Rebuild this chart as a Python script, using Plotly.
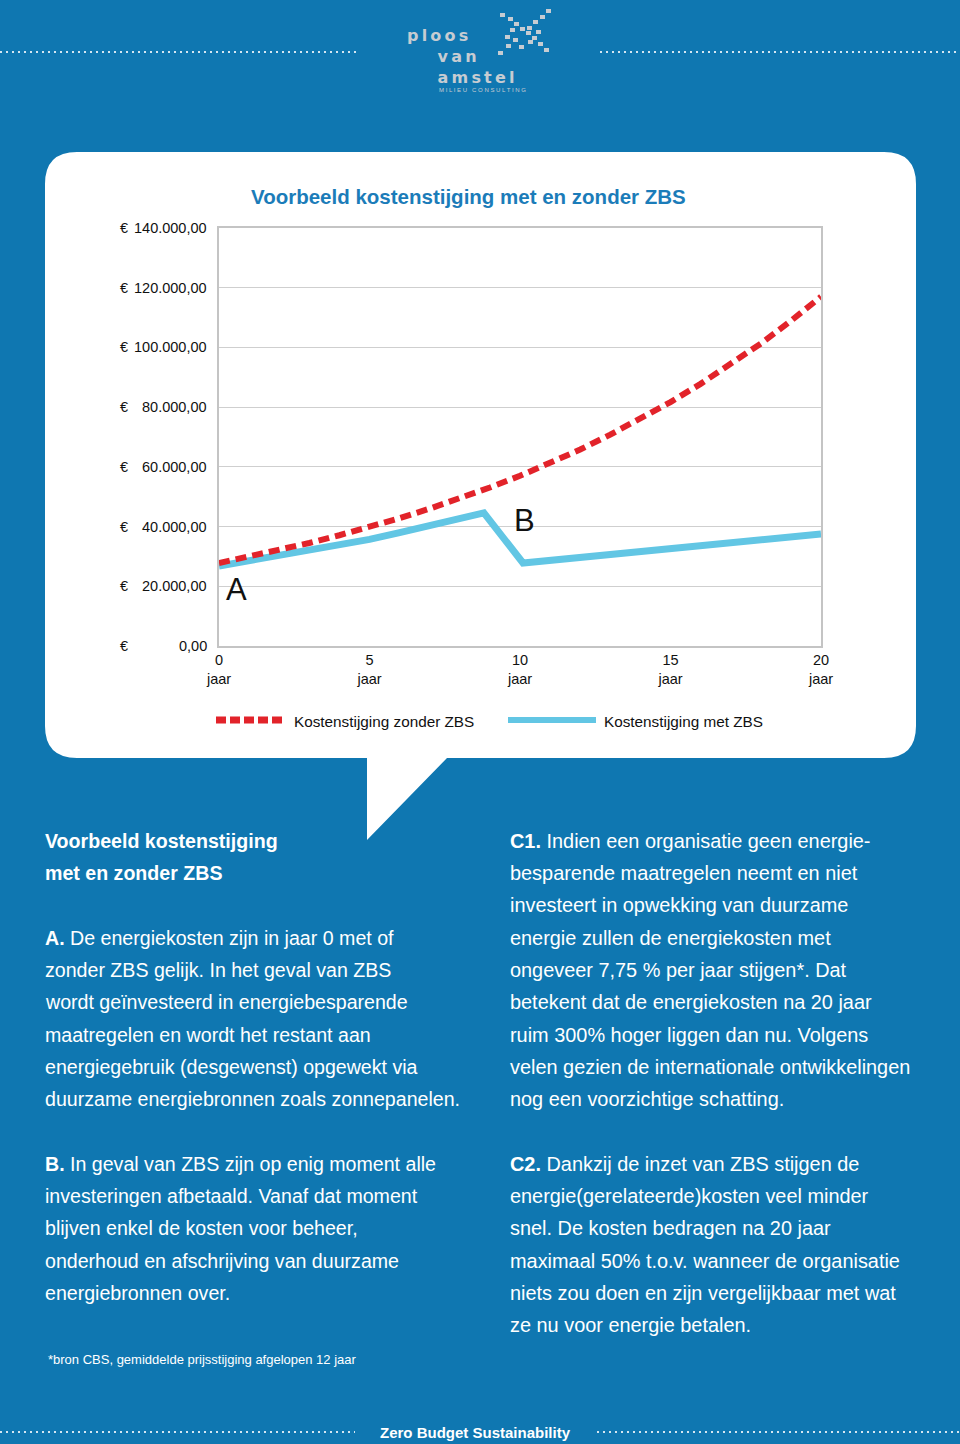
import plotly.graph_objects as go

# ---------------- data ----------------
years_red = list(range(0, 21))
cost_without_zbs = [27800, 29900, 32100, 34500, 37100, 39800, 42800, 46000, 49400, 53100,
                    57000, 61300, 65800, 70800, 76000, 81700, 87800, 94300, 101300, 108900, 117000]
years_blue = [0, 1, 2, 3, 4, 5, 6, 7, 8, 8.8, 10.1, 20]
cost_with_zbs = [26800, 28500, 30500, 32300, 34000, 35700, 38000, 40400, 42800, 44600, 27800, 37500]

y_ticks = [0, 20000, 40000, 60000, 80000, 100000, 120000, 140000]
y_tick_text = ["0,00", "20.000,00", "40.000,00", "60.000,00", "80.000,00",
               "100.000,00", "120.000,00", "140.000,00"]
x_ticks = [0, 5, 10, 15, 20]
x_tick_text = ["0<br>jaar", "5<br>jaar", "10<br>jaar", "15<br>jaar", "20<br>jaar"]

series_names = ["Kostenstijging zonder ZBS", "Kostenstijging met ZBS"]
chart_title = "Voorbeeld kostenstijging met en zonder ZBS"

left_lines = [
    (841, "<b>Voorbeeld kostenstijging</b>"),
    (873, "<b>met en zonder ZBS</b>"),
    (938, "<b>A.</b> De energiekosten zijn in jaar 0 met of"),
    (970, "zonder ZBS gelijk. In het geval van ZBS"),
    (1002, "wordt geïnvesteerd in energiebesparende"),
    (1035, "maatregelen en wordt het restant aan"),
    (1067, "energiegebruik (desgewenst) opgewekt via"),
    (1099, "duurzame energiebronnen zoals zonnepanelen."),
    (1164, "<b>B.</b> In geval van ZBS zijn op enig moment alle"),
    (1196, "investeringen afbetaald. Vanaf dat moment"),
    (1228, "blijven enkel de kosten voor beheer,"),
    (1261, "onderhoud en afschrijving van duurzame"),
    (1293, "energiebronnen over."),
]
right_lines = [
    (841, "<b>C1.</b> Indien een organisatie geen energie-"),
    (873, "besparende maatregelen neemt en niet"),
    (905, "investeert in opwekking van duurzame"),
    (938, "energie zullen de energiekosten met"),
    (970, "ongeveer 7,75 % per jaar stijgen*. Dat"),
    (1002, "betekent dat de energiekosten na 20 jaar"),
    (1035, "ruim 300% hoger liggen dan nu. Volgens"),
    (1067, "velen gezien de internationale ontwikkelingen"),
    (1099, "nog een voorzichtige schatting."),
    (1164, "<b>C2.</b> Dankzij de inzet van ZBS stijgen de"),
    (1196, "energie(gerelateerde)kosten veel minder"),
    (1228, "snel. De kosten bedragen na 20 jaar"),
    (1261, "maximaal 50% t.o.v. wanneer de organisatie"),
    (1293, "niets zou doen en zijn vergelijkbaar met wat"),
    (1325, "ze nu voor energie betalen."),
]
footnote = "*bron CBS, gemiddelde prijsstijging afgelopen 12 jaar"
footer = "Zero Budget Sustainability"
logo_words = ["ploos", "van", "amstel"]

# ---------------- style ----------------
W, H = 960, 1444
PL, PR, PT, PB = 219, 821, 228, 646
BG = "#0f77b1"
RED = "#e2232a"
CYAN = "#62c6e4"
TITLE_BLUE = "#1b7cb9"
FONT = "Helvetica Neue, Liberation Sans, Arial, sans-serif"
LOGO = "#c6ccd2"


def px(x):
    return (x - PL) / (PR - PL)


def py(y):
    return (PB - y) / (PB - PT)


fig = go.Figure()
fig.add_trace(go.Scatter(x=years_blue, y=cost_with_zbs, mode="lines", name=series_names[1],
                         line=dict(color=CYAN, width=7), showlegend=False, hoverinfo="skip"))
fig.add_trace(go.Scatter(x=years_red, y=cost_without_zbs, mode="lines", name=series_names[0],
                         line=dict(color=RED, width=6, dash="11px,6px"), showlegend=False,
                         hoverinfo="skip"))

shapes = []
r = 32


def P(x, y):
    return f"{px(x):.5f},{py(y):.5f}"


path = (f"M{P(45 + r, 152)} L{P(916 - r, 152)} Q{P(916, 152)} {P(916, 152 + r)} "
        f"L{P(916, 758 - r)} Q{P(916, 758)} {P(916 - r, 758)} L{P(447, 758)} L{P(367, 840)} "
        f"L{P(367, 758)} L{P(45 + r, 758)} Q{P(45, 758)} {P(45, 758 - r)} L{P(45, 152 + r)} "
        f"Q{P(45, 152)} {P(45 + r, 152)} Z")
shapes.append(dict(type="path", xref="paper", yref="paper", path=path,
                   fillcolor="white", line=dict(width=0), layer="below"))

# dotted rules
for (x0, x1, y) in [(0, 357, 52), (600, 960, 52), (0, 355, 1432), (597, 960, 1432)]:
    shapes.append(dict(type="line", xref="paper", yref="paper", x0=px(x0), x1=px(x1),
                       y0=py(y), y1=py(y), line=dict(color="#d5e6f1", width=2, dash="2px,4px")))

# legend samples
shapes.append(dict(type="line", xref="paper", yref="paper", x0=px(216), x1=px(285),
                   y0=py(720), y1=py(720), line=dict(color=RED, width=7, dash="10px,4px")))
shapes.append(dict(type="line", xref="paper", yref="paper", x0=px(508), x1=px(596),
                   y0=py(720), y1=py(720), line=dict(color=CYAN, width=6)))

# logo squares (decoration)
logo_sq = [(500, 13), (508, 17), (514, 22), (520, 27), (526, 31), (532, 36), (538, 42), (544, 48),
           (546, 9), (540, 15), (533, 20), (527, 26), (513, 38), (506, 44), (498, 51),
           (510, 28), (528, 40), (536, 30), (505, 35), (519, 45)]
for (sx, sy) in logo_sq:
    shapes.append(dict(type="rect", xref="paper", yref="paper", x0=px(sx), x1=px(sx + 5),
                       y0=py(sy + 4), y1=py(sy), fillcolor=LOGO, line=dict(width=0)))

ann = []
ann.append(dict(text=f"<b>{chart_title}</b>", xref="paper", yref="paper", x=px(249), y=py(196),
                xanchor="left", yanchor="middle", showarrow=False,
                font=dict(size=20.5, color=TITLE_BLUE, family=FONT)))
for v, t in zip(y_ticks, y_tick_text):
    ann.append(dict(text="€", xref="paper", yref="y", x=px(118), y=v, xanchor="left",
                    yanchor="middle", showarrow=False, font=dict(size=14.5, color="#111", family=FONT)))
    ann.append(dict(text=t, xref="paper", yref="y", x=px(209), y=v, xanchor="right",
                    yanchor="middle", showarrow=False, font=dict(size=14.5, color="#111", family=FONT)))
for txt, xv, yv in [("A", 0.15, 18800), ("B", 9.75, 41900), ("C<sup>1</sup>", 20.3, 117300),
                    ("C<sup>2</sup>", 20.3, 38500)]:
    ann.append(dict(text=txt, x=xv, y=yv, xref="x", yref="y", xanchor="left", yanchor="middle",
                    showarrow=False, font=dict(size=31, color="#111", family=FONT)))
ann.append(dict(text=series_names[0], xref="paper", yref="paper", x=px(292), y=py(721),
                xanchor="left", yanchor="middle", showarrow=False,
                font=dict(size=15.3, color="#111", family=FONT)))
ann.append(dict(text=series_names[1], xref="paper", yref="paper", x=px(602), y=py(721),
                xanchor="left", yanchor="middle", showarrow=False,
                font=dict(size=15.3, color="#111", family=FONT)))
for (y, t) in left_lines:
    ann.append(dict(text=t, xref="paper", yref="paper", x=px(43), y=py(y), xanchor="left",
                    yanchor="middle", showarrow=False, font=dict(size=19.6, color="white", family=FONT)))
for (y, t) in right_lines:
    ann.append(dict(text=t, xref="paper", yref="paper", x=px(508), y=py(y), xanchor="left",
                    yanchor="middle", showarrow=False, font=dict(size=19.9, color="white", family=FONT)))
ann.append(dict(text=footnote, xref="paper", yref="paper", x=px(46), y=py(1360), xanchor="left",
                yanchor="middle", showarrow=False, font=dict(size=13, color="white", family=FONT)))
ann.append(dict(text=f"<b>{footer}</b>", xref="paper", yref="paper", x=px(475), y=py(1432),
                xanchor="center", yanchor="middle", showarrow=False,
                font=dict(size=15, color="white", family=FONT)))
# logo text as one block (letter-spaced with thin spaces)
ts = "\u2009"
ind = "\u00a0" * 6
logo_text = "<br>".join(
    (ind if i else "") + "<b>" + ts.join(w) + "</b>" for i, w in enumerate(logo_words))
ann.append(dict(text=logo_text, xref="paper", yref="paper", x=px(405), y=py(56), xanchor="left",
                yanchor="middle", align="left", showarrow=False,
                font=dict(size=16, color=LOGO, family="DejaVu Sans")))
ann.append(dict(text="M I L I E U   C O N S U L T I N G", xref="paper", yref="paper", x=px(437),
                y=py(90), xanchor="left", yanchor="middle", showarrow=False,
                font=dict(size=6, color=LOGO, family=FONT)))

fig.update_layout(
    width=W, height=H,
    margin=dict(l=PL, r=W - PR, t=PT, b=H - PB, pad=0),
    paper_bgcolor=BG, plot_bgcolor="white",
    shapes=shapes, annotations=ann, showlegend=False,
    font=dict(family=FONT),
    xaxis=dict(range=[0, 20], tickvals=x_ticks, ticktext=x_tick_text, showgrid=False,
               zeroline=False, showline=True, mirror=True, linecolor="#c4c4c4", linewidth=1.5,
               ticks="", tickfont=dict(size=14.5, color="#111", family=FONT), fixedrange=True),
    yaxis=dict(range=[0, 140000], tickvals=y_ticks, showticklabels=False, showgrid=True,
               gridcolor="#cfcfcf", gridwidth=1.2, zeroline=False, showline=True, mirror=True,
               linecolor="#c4c4c4", linewidth=1.5, ticks="", fixedrange=True),
)

fig.write_html("out.html", config={"displayModeBar": False},
               post_script="document.body.style.margin='0';document.body.style.overflow='hidden';")
